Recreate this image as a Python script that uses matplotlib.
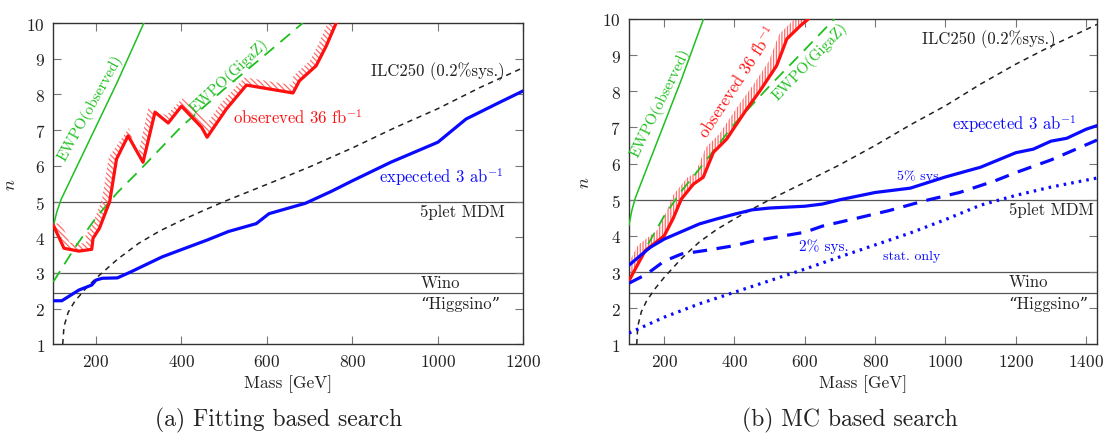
import numpy as np
import matplotlib
matplotlib.use('Agg')
import matplotlib.pyplot as plt
from matplotlib.patches import Polygon

plt.rcParams['font.family'] = ['cmr10', 'DejaVu Serif']
plt.rcParams['mathtext.fontset'] = 'cm'
plt.rcParams['axes.formatter.use_mathtext'] = True
plt.rcParams['hatch.linewidth'] = 0.9

# ---------------- data ----------------
# EWPO (observed)  -- green solid
ewpo_obs_m = [100, 108, 118, 150, 200, 250, 312]
ewpo_obs_n = [4.3, 4.7, 5.05, 5.85, 7.1, 8.35, 10.0]
# EWPO (GigaZ) -- green dashed
ewpo_gz_m = [100, 150, 200, 250, 300, 400, 500, 600, 684]
ewpo_gz_n = [2.75, 3.7, 4.55, 5.25, 5.85, 7.1, 8.15, 9.15, 10.0]
# ILC250 (0.2% sys.) -- black dashed
ilc_m = [122, 125, 135, 150, 175, 200, 250, 300, 350, 400, 450, 500, 600, 700, 800, 900, 1000, 1100, 1200, 1300, 1431]
ilc_n = [1.0, 1.5, 1.9, 2.2, 2.55, 2.85, 3.38, 3.83, 4.18, 4.47, 4.74, 5.0, 5.48, 5.97, 6.5, 7.07, 7.6, 8.2, 8.75, 9.25, 9.85]

# (a) Fitting based search
obs_a_m = [100, 125, 160, 190, 193, 208, 232, 248, 275, 310, 338, 369, 400, 447, 460, 505, 552, 661, 676, 715, 739, 762]
obs_a_n = [4.34, 3.69, 3.61, 3.66, 3.97, 4.25, 5.0, 6.19, 6.84, 6.1, 7.5, 7.2, 7.67, 7.08, 6.8, 7.59, 8.26, 8.04, 8.38, 8.8, 9.36, 10.0]
exp_a_m = [100, 120, 160, 190, 200, 215, 250, 280, 320, 355, 395, 460, 510, 575, 605, 690, 750, 800, 890, 1000, 1066, 1145, 1200]
exp_a_n = [2.22, 2.22, 2.52, 2.66, 2.8, 2.85, 2.86, 3.02, 3.25, 3.45, 3.63, 3.92, 4.16, 4.38, 4.66, 4.95, 5.28, 5.58, 6.1, 6.66, 7.31, 7.78, 8.1]

# (b) MC based search
obs_b_m = [100, 146, 200, 225, 249, 283, 311, 340, 378, 397, 435, 473, 520, 549, 587, 610]
obs_b_n = [2.76, 3.59, 4.0, 4.47, 5.02, 5.43, 5.62, 6.31, 6.68, 6.96, 7.51, 8.02, 8.71, 9.45, 9.81, 10.0]
sys5_m = [100, 160, 200, 300, 350, 400, 450, 500, 600, 650, 700, 800, 900, 1000, 1100, 1155, 1200, 1250, 1300, 1345, 1400, 1431]
sys5_n = [3.19, 3.68, 3.91, 4.33, 4.47, 4.6, 4.72, 4.77, 4.82, 4.88, 5.0, 5.2, 5.32, 5.63, 5.9, 6.12, 6.3, 6.4, 6.62, 6.7, 6.95, 7.05]
sys2_m = [100, 150, 200, 250, 320, 400, 460, 515, 600, 650, 740, 840, 940, 1040, 1140, 1200, 1300, 1431]
sys2_n = [2.69, 2.94, 3.3, 3.5, 3.6, 3.73, 3.87, 3.96, 4.1, 4.27, 4.47, 4.7, 4.97, 5.2, 5.52, 5.75, 6.1, 6.65]
stat_m = [100, 200, 300, 400, 500, 600, 700, 800, 900, 1000, 1100, 1200, 1300, 1431]
stat_n = [1.31, 1.75, 2.12, 2.44, 2.76, 3.08, 3.42, 3.75, 4.08, 4.45, 4.85, 5.12, 5.35, 5.6]

# reference multiplets
ref_n = [5.0, 3.0, 2.43]
ref_labels = ['5plet MDM', 'Wino', '\u201cHiggsino\u201d']
ref_label_n = [4.72, 2.74, 2.14]

RED = '#ff1010'
BLUE = '#0a0aff'
GREEN = '#1fbf1f'
HATCH = '#ff6a6a'


def hatch_band(ax, x, y, width_px, hatch):
    pts = ax.transData.transform(np.column_stack([x, y]))
    d = np.gradient(pts, axis=0)
    t = d / np.linalg.norm(d, axis=1)[:, None]
    nrm = np.column_stack([-t[:, 1], t[:, 0]])
    off = ax.transData.inverted().transform(pts + nrm * width_px)
    poly = np.vstack([np.column_stack([x, y]), off[::-1]])
    ax.add_patch(Polygon(poly, closed=True, facecolor='none', edgecolor=HATCH,
                         hatch=hatch, lw=0, zorder=2))


fig = plt.figure(figsize=(11.05, 4.35), dpi=100)
axL = fig.add_axes([53.3 / 1105, 1 - 345.3 / 435, 470 / 1105, 321.3 / 435])
axR = fig.add_axes([629 / 1105, 1 - 345.3 / 435, 468 / 1105, 325.3 / 435])

for ax, xmax, xticks in [(axL, 1200, [200, 400, 600, 800, 1000, 1200]),
                         (axR, 1431, [200, 400, 600, 800, 1000, 1200, 1400])]:
    ax.set_xlim(100, xmax)
    ax.set_ylim(1, 10)
    ax.set_xticks(xticks)
    ax.set_yticks(range(1, 11))
    ax.tick_params(direction='in', top=True, right=True, length=6, width=0.8,
                   color='#777777', labelsize=12.5, labelcolor='#222222', pad=6)
    for s in ax.spines.values():
        s.set_color('#333333')
        s.set_linewidth(1.0)
    ax.set_xlabel('Mass [GeV]', fontsize=12.5, color='#222222', labelpad=4)
    ax.set_ylabel('$n$', fontsize=13, color='#222222')
    for rn in ref_n:
        ax.axhline(rn, color='#555555', lw=0.9, zorder=1)
    ax.plot(ewpo_obs_m, ewpo_obs_n, color=GREEN, lw=1.1, zorder=3)
    ax.plot(ewpo_gz_m, ewpo_gz_n, color=GREEN, lw=1.3, dashes=(7, 4.5), zorder=3)
    ax.plot(ilc_m, ilc_n, color='#222222', lw=1.1, dashes=(3.5, 3), zorder=3)

axL.yaxis.set_label_coords(-0.075, 0.5)
axR.yaxis.set_label_coords(-0.080, 0.5)

# ---- panel (a)
hatch_band(axL, obs_a_m, obs_a_n, 8, '\\\\\\\\\\\\')
axL.plot(obs_a_m, obs_a_n, color=RED, lw=2.3, zorder=4)
axL.plot(exp_a_m, exp_a_n, color=BLUE, lw=2.3, zorder=4)

axL.text(186, 7.65, 'EWPO(observed)', color=GREEN, fontsize=11, rotation=61,
         ha='center', va='center', rotation_mode='anchor')
axL.text(511, 8.52, 'EWPO(GigaZ)', color=GREEN, fontsize=11, rotation=43,
         ha='center', va='center', rotation_mode='anchor')
axL.text(521, 7.37, 'obsereved 36 fb$^{-1}$', color=RED, fontsize=12, ha='left', va='center')
axL.text(863, 5.72, 'expeceted 3 ab$^{-1}$', color=BLUE, fontsize=12, ha='left', va='center')
axL.text(844, 8.66, 'ILC250 (0.2%sys.)', color='#222222', fontsize=12, ha='left', va='center')
for lab, ln in zip(ref_labels, ref_label_n):
    axL.text(959, ln, lab, color='#222222', fontsize=12, ha='left', va='center')

# ---- panel (b)
hatch_band(axR, obs_b_m, obs_b_n, 9, '||||||')
axR.plot(obs_b_m, obs_b_n, color=RED, lw=2.3, zorder=4)
axR.plot(sys5_m, sys5_n, color=BLUE, lw=2.3, zorder=4)
axR.plot(sys2_m, sys2_n, color=BLUE, lw=2.3, dashes=(4.5, 3), zorder=4)
axR.plot(stat_m, stat_n, color=BLUE, lw=2.3, dashes=(0.8, 1.6), zorder=4)

axR.text(190, 7.7, 'EWPO(observed)', color=GREEN, fontsize=11, rotation=64,
         ha='center', va='center', rotation_mode='anchor')
axR.text(615, 8.85, 'EWPO(GigaZ)', color=GREEN, fontsize=11, rotation=46,
         ha='center', va='center', rotation_mode='anchor')
axR.text(409, 8.29, 'obsereved 36 fb$^{-1}$', color=RED, fontsize=12, rotation=57,
         ha='center', va='center', rotation_mode='anchor')
axR.text(933, 9.45, 'ILC250 (0.2%sys.)', color='#222222', fontsize=12, ha='left', va='center')
axR.text(1018, 7.12, 'expeceted 3 ab$^{-1}$', color=BLUE, fontsize=12, ha='left', va='center')
axR.text(861, 5.66, '5% sys', color=BLUE, fontsize=10, ha='left', va='center')
axR.text(584, 3.73, '2% sys.', color=BLUE, fontsize=11, ha='left', va='center')
axR.text(821, 3.45, 'stat. only', color=BLUE, fontsize=10, ha='left', va='center')
for lab, ln in zip(ref_labels, ref_label_n):
    axR.text(1180, ln, lab, color='#222222', fontsize=12, ha='left', va='center')

fig.text(279 / 1105, 0.033, '(a) Fitting based search', ha='center', va='center',
         fontsize=17, color='#222222')
fig.text(850 / 1105, 0.033, '(b) MC based search', ha='center', va='center',
         fontsize=17, color='#222222')

fig.savefig('out.png', dpi=100)
